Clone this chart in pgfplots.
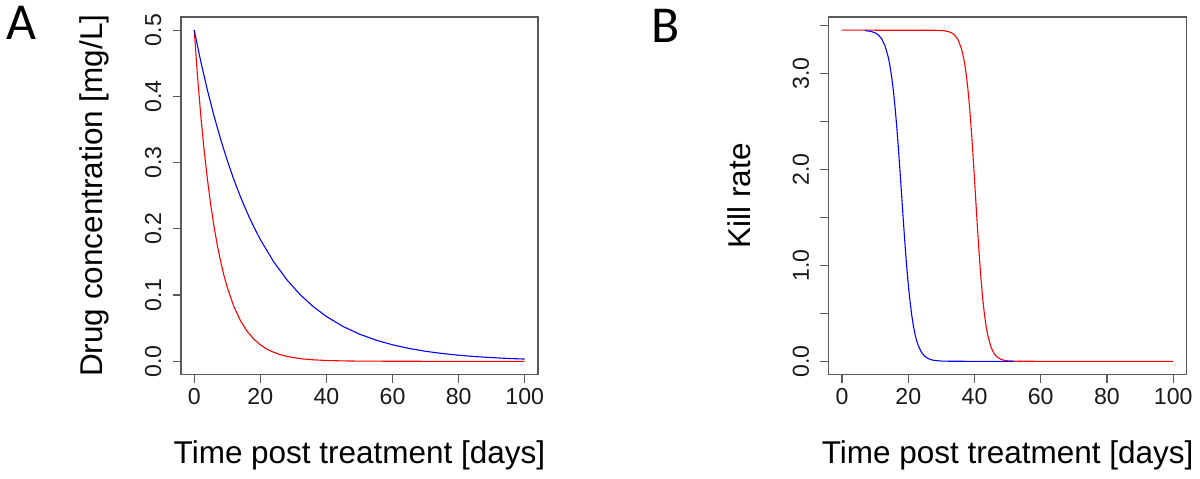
\documentclass[border=0pt]{standalone}
\usepackage{pgfplots}
\pgfplotsset{compat=1.18}
\usepackage{fontspec}
\setmainfont{Liberation Sans}
\newfontfamily\panelfont{Carlito}
\begin{document}
\begin{tikzpicture}
\path (0,0) rectangle (600pt,240pt);
\pgfplotsset{
 rplot/.style={
  scale only axis, anchor=south west,
  axis line style={black!65, line width=0.6pt},
  tick align=outside, major tick length=4.2pt,
  tick style={black!65, line width=0.6pt},
  tick pos=left,
  tick label style={font=\fontsize{11.6}{13}\selectfont, inner sep=0pt, text=black!90},
  /pgf/number format/assume math mode=true,
  xticklabel style={anchor=north},
  yticklabel style={rotate=90, anchor=south},
  xticklabel shift=2.5pt, yticklabel shift=5.5pt,
  label style={font=\fontsize{15.8}{18}\selectfont},
  xlabel style={at={(axis description cs:0.5,-0.248)}, anchor=base},
  ylabel style={at={(axis description cs:-0.219,0.5)}, anchor=base},
  xmin=-4, xmax=104, xtick={0,20,40,60,80,100},
  xlabel={Time post treatment [days]},
 }
}
% Panel A
\begin{axis}[rplot, at={(90.85pt,52pt)}, width=179.15pt, height=179.5pt,
  ymin=-0.02, ymax=0.52, ytick={0,0.1,0.2,0.3,0.4,0.5},
  yticklabels={0.0,0.1,0.2,0.3,0.4,0.5},
  ylabel={Drug concentration [mg/L]}]
\addplot[red, line width=0.55pt] coordinates {
(0,0.5) (1,0.4304) (2,0.3704) (3,0.3188) (4,0.2744) (5,0.2362) (6,0.2033)
(7,0.1750) (8,0.1506) (9,0.1296) (10,0.1116) (12,0.0826) (14,0.0612)
(16,0.0454) (18,0.0336) (20,0.0249) (22,0.0184) (24,0.0137) (26,0.0101)
(28,0.0075) (30,0.0056) (33,0.0035) (36,0.0023) (40,0.0012) (45,0.0006)
(50,0.0003) (60,0.0001) (70,0) (80,0) (90,0) (100,0)};
\addplot[blue, line width=0.55pt] coordinates {
(0,0.5) (2,0.4524) (4,0.4094) (6,0.3704) (8,0.3352) (10,0.3033) (12,0.2744)
(14,0.2483) (16,0.2247) (18,0.2033) (20,0.1839) (24,0.1506) (28,0.1233)
(32,0.1009) (36,0.0826) (40,0.0677) (45,0.0527) (50,0.0410) (55,0.0320)
(60,0.0249) (65,0.0194) (70,0.0151) (75,0.0118) (80,0.0092) (85,0.0071)
(90,0.0056) (95,0.0043) (100,0.0034)};
\end{axis}
% Panel B
\begin{axis}[rplot, at={(416pt,52pt)}, width=179.5pt, height=179.5pt,
  ymin=-0.138, ymax=3.588, ytick={0,0.5,1,1.5,2,2.5,3,3.5},
  yticklabels={0.0,{},1.0,{},2.0,{},3.0,{}},
  ylabel={Kill rate}]
\addplot[red, line width=0.55pt] coordinates {
(0,3.45) (28,3.449) (30,3.4464) (31,3.443) (32,3.436) (33,3.424) (34,3.399)
(35,3.352) (36,3.264) (36.5,3.196) (37,3.106) (37.5,2.988) (38,2.838)
(38.5,2.651) (39,2.429) (39.5,2.174) (40,1.897) (40.5,1.610) (41,1.330)
(41.5,1.070) (42,0.840) (42.5,0.647) (43,0.489) (43.5,0.365) (44,0.270)
(45,0.144) (46,0.0755) (47,0.0392) (48,0.0203) (49,0.0104) (50,0.0054)
(52,0.0014) (55,0.0002) (60,0) (100,0)};
\addplot[blue, line width=0.55pt] coordinates {
(7,3.445) (8,3.441) (9,3.434) (10,3.422) (11,3.399) (12,3.358) (13,3.285)
(14,3.162) (14.5,3.072) (15,2.959) (15.5,2.819) (16,2.650) (16.5,2.452)
(17,2.227) (17.5,1.981) (18,1.725) (18.5,1.469) (19,1.223) (19.5,0.9985)
(20,0.800) (20.5,0.631) (21,0.491) (21.5,0.378) (22,0.288) (22.5,0.218)
(23,0.165) (24,0.0924) (25,0.0514) (26,0.0285) (27,0.0157) (28,0.0086)
(30,0.0026) (33,0.0004) (36,0.0001) (40,0) (52,0)};
\end{axis}
\node[anchor=base west, inner sep=0pt, font=\panelfont\fontsize{26}{30}\selectfont] at (3pt,220pt) {A};
\node[anchor=base west, inner sep=0pt, font=\panelfont\fontsize{26}{30}\selectfont] at (327pt,218.5pt) {B};
\end{tikzpicture}
\end{document}
